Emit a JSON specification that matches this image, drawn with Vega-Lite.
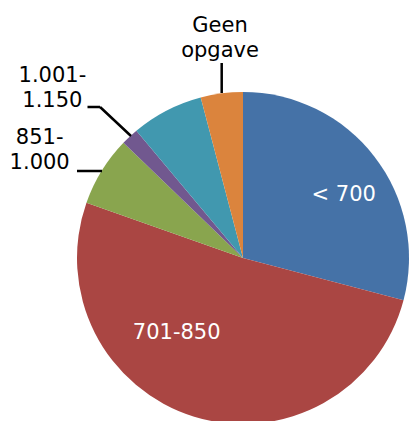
{
  "$schema": "https://vega.github.io/schema/vega-lite/v6.json",
  "width": 332,
  "height": 326,
  "autosize": {"type": "none"},
  "padding": {"left": 77, "top": 95, "right": 0, "bottom": 0},
  "background": "white",
  "view": {"stroke": null},
  "config": {"text": {"font": "DejaVu Sans", "fontSize": 21, "lineHeight": 25, "baseline": "alphabetic", "align": "center", "lineBreak": "\n"}},
  "data": {"values": [
    {"i": 1, "cat": "< 700", "label": "< 700", "pct": 29.1},
    {"i": 2, "cat": "701-850", "label": "701-850", "pct": 51.3},
    {"i": 3, "cat": "851-1.000", "label": "851-\n1.000", "pct": 6.8},
    {"i": 4, "cat": "1.001-1.150", "label": "1.001-\n1.150", "pct": 1.7},
    {"i": 5, "cat": "> 1.150", "label": "", "pct": 7.0},
    {"i": 6, "cat": "Geen opgave", "label": "Geen\nopgave", "pct": 4.1}
  ]},
  "layer": [
    {
      "mark": {"type": "arc", "outerRadius": 166},
      "encoding": {
        "theta": {"field": "pct", "type": "quantitative", "stack": true},
        "order": {"field": "i", "type": "quantitative"},
        "color": {"field": "cat", "type": "nominal", "legend": null,
          "scale": {"domain": ["< 700", "701-850", "851-1.000", "1.001-1.150", "> 1.150", "Geen opgave"],
                    "range": ["#4572A7", "#AA4643", "#89A54E", "#71588F", "#4198AF", "#DB843D"]}}
      }
    },
    {
      "mark": {"type": "text", "radius": 115, "dx": 9.6, "dy": 13.2, "color": "white"},
      "encoding": {
        "theta": {"field": "pct", "type": "quantitative", "stack": true},
        "order": {"field": "i", "type": "quantitative"},
        "detail": {"field": "cat"},
        "text": {"condition": {"test": "datum.cat === '< 700'", "field": "label"}, "value": ""}
      }
    },
    {
      "mark": {"type": "text", "radius": 100, "dx": -36.9, "dy": -14.3, "color": "white"},
      "encoding": {
        "theta": {"field": "pct", "type": "quantitative", "stack": true},
        "order": {"field": "i", "type": "quantitative"},
        "detail": {"field": "cat"},
        "text": {"condition": {"test": "datum.cat === '701-850'", "field": "label"}, "value": ""}
      }
    },
    {
      "mark": {"type": "text", "radius": 185, "dx": -45.9, "dy": -16.8, "color": "black"},
      "encoding": {
        "theta": {"field": "pct", "type": "quantitative", "stack": true},
        "order": {"field": "i", "type": "quantitative"},
        "detail": {"field": "cat"},
        "text": {"condition": {"test": "datum.cat === '851-1.000'", "field": "label"}, "value": ""}
      }
    },
    {
      "mark": {"type": "text", "radius": 185, "dx": -64.4, "dy": -41, "color": "black"},
      "encoding": {
        "theta": {"field": "pct", "type": "quantitative", "stack": true},
        "order": {"field": "i", "type": "quantitative"},
        "detail": {"field": "cat"},
        "text": {"condition": {"test": "datum.cat === '1.001-1.150'", "field": "label"}, "value": ""}
      }
    },
    {
      "mark": {"type": "text", "radius": 185, "dx": 0.8, "dy": -42.2, "color": "black"},
      "encoding": {
        "theta": {"field": "pct", "type": "quantitative", "stack": true},
        "order": {"field": "i", "type": "quantitative"},
        "detail": {"field": "cat"},
        "text": {"condition": {"test": "datum.cat === 'Geen opgave'", "field": "label"}, "value": ""}
      }
    },
    {
      "transform": [{"filter": "datum.cat === 'Geen opgave'"}],
      "mark": {"type": "arc", "filled": false, "stroke": "black", "strokeWidth": 2.5, "theta": 0, "theta2": 0, "outerRadius": 30, "innerRadius": 0, "xOffset": -21.3, "yOffset": -165},
      "encoding": {}
    },
    {
      "transform": [{"filter": "datum.cat === '851-1.000'"}],
      "mark": {"type": "arc", "filled": false, "stroke": "black", "strokeWidth": 2.5, "theta": 4.712, "theta2": 4.712, "outerRadius": 25, "innerRadius": 0, "xOffset": -141, "yOffset": -87},
      "encoding": {}
    },
    {
      "transform": [{"filter": "datum.cat === '1.001-1.150'"}],
      "mark": {"type": "arc", "filled": false, "stroke": "black", "strokeWidth": 2.5, "theta": 5.465, "theta2": 5.465, "outerRadius": 42.4, "innerRadius": 0, "xOffset": -112, "yOffset": -122},
      "encoding": {}
    },
    {
      "transform": [{"filter": "datum.cat === '1.001-1.150'"}],
      "mark": {"type": "arc", "filled": false, "stroke": "black", "strokeWidth": 2.5, "theta": 4.712, "theta2": 4.712, "outerRadius": 12.5, "innerRadius": 0, "xOffset": -143, "yOffset": -151},
      "encoding": {}
    }
  ]
}
